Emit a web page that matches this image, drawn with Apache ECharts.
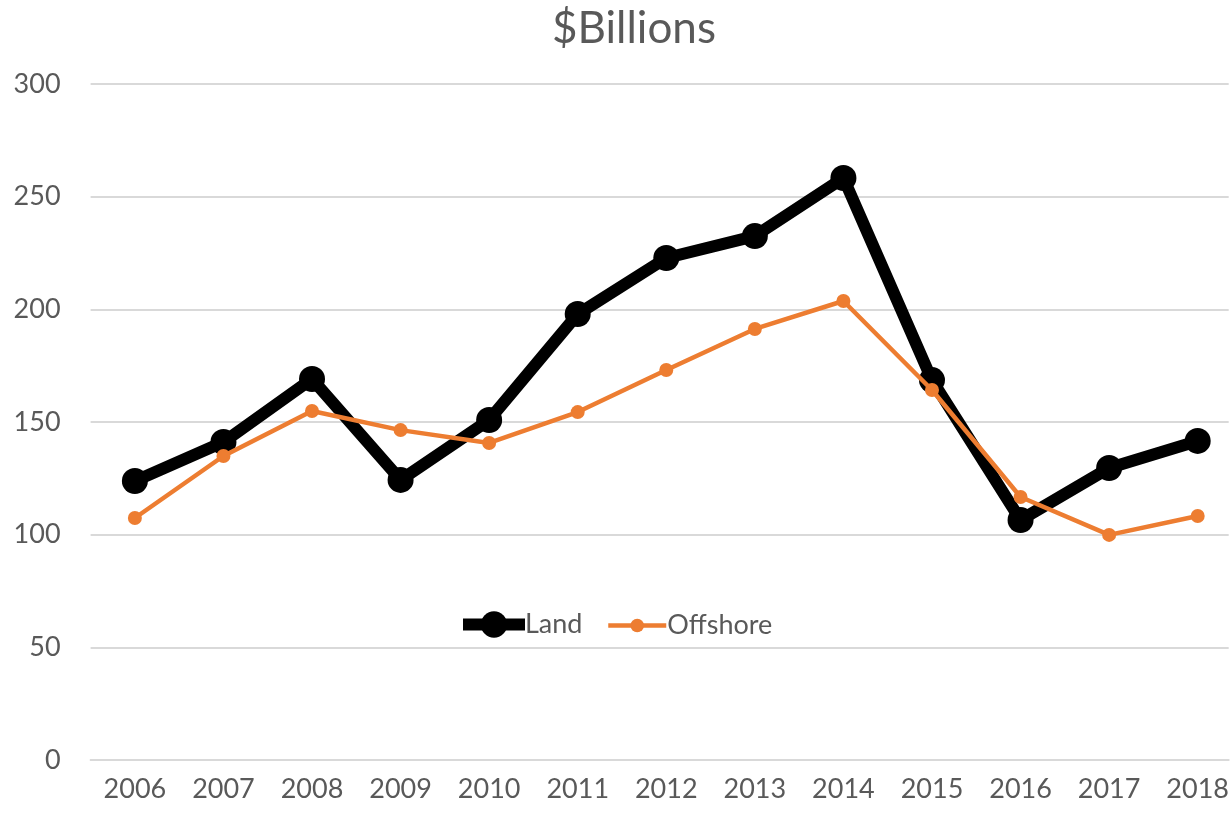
<!DOCTYPE html>
<html>
<head>
<meta charset="utf-8">
<script src="https://cdn.jsdelivr.net/npm/echarts@6/dist/echarts.min.js"></script>
<style>html,body{margin:0;padding:0;background:#fff}#c{width:1232px;height:815px}</style>
</head>
<body>
<div id="c"></div>
<script>
const years = ['2006','2007','2008','2009','2010','2011','2012','2013','2014','2015','2016','2017','2018'];
const land = [123.8,141.1,169.1,124.3,150.9,197.9,222.8,232.5,258.3,168.6,106.5,129.6,141.6];
const offshore = [107.4,134.9,154.9,146.4,140.7,154.4,173.1,191.3,203.7,164.2,116.7,99.9,108.3];
const yTicks = [0,50,100,150,200,250,300];

const yearNums = years.map(Number);
const pairs = arr => arr.map((v,i)=>[yearNums[i], v]);
const font = 'Lato, "Open Sans", sans-serif';
const txt = '#595959';
const chart = echarts.init(document.getElementById('c'), null, {renderer:'canvas'});
chart.setOption({
  animation:false,
  title:{text:'$Billions',left:552,top:7,padding:0,textStyle:{fontFamily:font,fontSize:44,fontWeight:'normal',color:txt}},
  legend:[
    {left:457,top:611,padding:0,itemWidth:62,itemHeight:33,
     textStyle:{fontFamily:font,fontSize:27,color:txt,padding:[0,0,0,-5]},
     data:[{name:'Land',lineStyle:{width:12,color:'#000'}}]},
    {left:606,top:612,padding:0,itemWidth:58,itemHeight:17,
     textStyle:{fontFamily:font,fontSize:27,color:txt,padding:[0,0,0,-4]},
     data:[{name:'Offshore',lineStyle:{width:4.5,color:'#ed7d31'}}]}
  ],
  grid:{left:90.6,right:0,top:84,bottom:55,containLabel:false},
  xAxis:{type:'value',min:2005.5,max:2018.35,
    axisLine:{show:true,lineStyle:{color:'#d9d9d9',width:2}},
    axisTick:{show:false},splitLine:{show:false},
    axisLabel:{fontFamily:font,fontSize:27,color:txt,margin:16,customValues:yearNums,
      formatter:v=>String(v)}},
  yAxis:{type:'value',min:yTicks[0],max:yTicks[yTicks.length-1],interval:50,
    axisLine:{show:false},axisTick:{show:false},
    splitLine:{lineStyle:{color:'#d9d9d9',width:2}},
    axisLabel:{fontFamily:font,fontSize:27,color:txt,margin:30}},
  series:[
    {name:'Land',type:'line',data:pairs(land),symbol:'circle',symbolSize:26,
      lineStyle:{color:'#000',width:12},itemStyle:{color:'#000'},z:3},
    {name:'Offshore',type:'line',data:pairs(offshore),symbol:'circle',symbolSize:14,
      lineStyle:{color:'#ed7d31',width:4.5},itemStyle:{color:'#ed7d31'},z:4}
  ]
});
</script>
</body>
</html>
